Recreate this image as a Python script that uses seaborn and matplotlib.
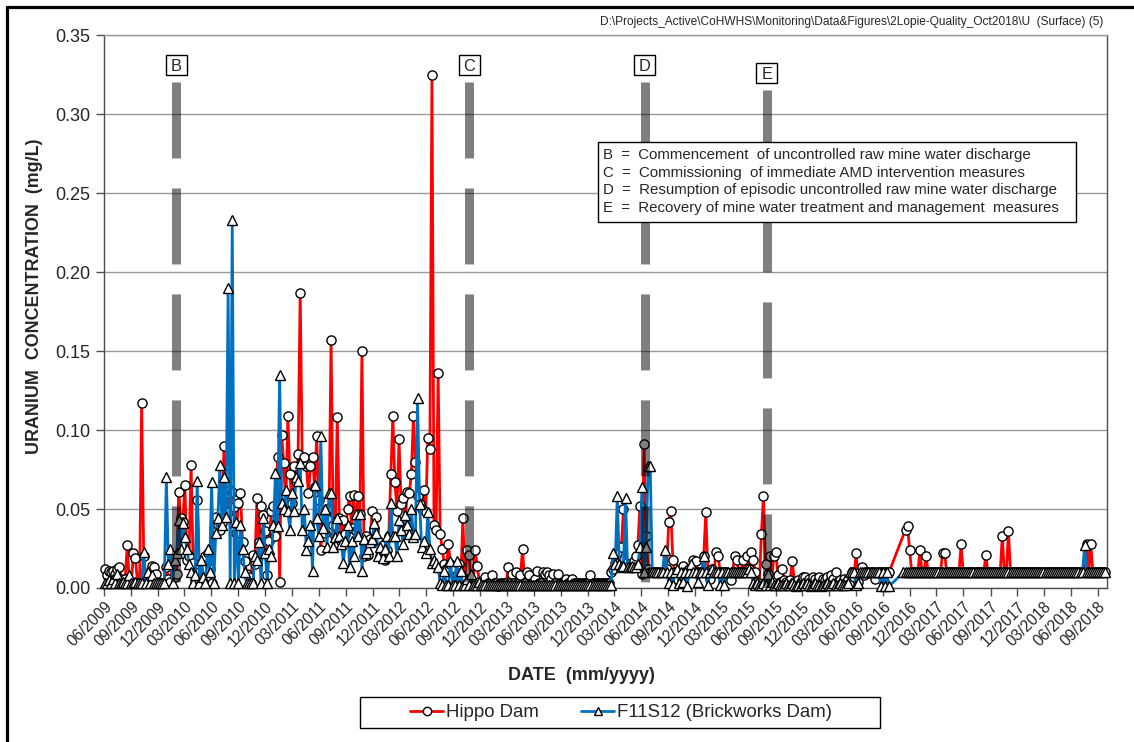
import numpy as np
import pandas as pd
import matplotlib
matplotlib.use("Agg")
import matplotlib.pyplot as plt
import matplotlib.dates as mdates
from matplotlib.lines import Line2D
from matplotlib.patches import Rectangle
from matplotlib.transforms import ScaledTranslation
import seaborn as sns

# ---------------------------------------------------------------------------
# Weekly uranium results (mg/L); nan = no sample that week
# ---------------------------------------------------------------------------
first_sample = "2009-06-03"

hippo_dam = [
    # 2009
    0.012, 0.008, 0.011, 0.010, 0.011, 0.009, 0.012, 0.013, 0.006, 0.005,
    0.006, 0.027, 0.005, 0.003, 0.022, 0.019, 0.003, 0.003, 0.117, 0.020,
    0.008, 0.005, 0.010, 0.014, 0.013, 0.009, 0.004, 0.003, 0.003, 0.003,
    0.013, 0.006, 0.004, 0.020, 0.007, 0.009, 0.061, 0.044, 0.042, 0.065,
    # 2010
    0.018, 0.020, 0.078, 0.016, 0.003, 0.056, 0.015, 0.003, 0.012, 0.020,
    0.022, 0.012, 0.003, 0.038, 0.045, 0.040, 0.037, 0.041, 0.090, 0.060,
    0.048, 0.062, 0.061, 0.051, 0.035, 0.054, 0.060, 0.029, 0.017, 0.009,
    0.007, 0.003, 0.021, 0.015, 0.057, 0.029, 0.052, 0.046, 0.036, 0.008,
    # 2011
    0.030, 0.049, 0.052, 0.033, 0.083, 0.004, 0.097, 0.079, 0.050, 0.109,
    0.072, 0.054, 0.077, 0.068, 0.085, 0.187, 0.080, 0.083, 0.077, 0.060,
    0.077, 0.083, 0.064, 0.096, 0.056, 0.024, 0.044, 0.035, 0.050, 0.043,
    0.157, 0.040, 0.033, 0.108, 0.044, 0.030, 0.043, 0.034, 0.050, 0.058,
    0.038, 0.059, 0.036, 0.058, 0.047, 0.150, 0.020, 0.033, 0.021, 0.031,
    # 2012
    0.049, 0.037, 0.045, 0.030, 0.020, 0.027, 0.018, 0.024, 0.033, 0.072,
    0.109, 0.067, 0.049, 0.094, 0.053, 0.057, 0.042, 0.061, 0.060, 0.072,
    0.109, 0.080, 0.058, 0.053, 0.050, 0.062, 0.048, 0.095, 0.088, 0.325,
    0.040, 0.037, 0.136, 0.034, 0.025, 0.015, 0.012, 0.028, 0.015, 0.006,
    0.012, 0.008, 0.015, 0.005, 0.044, 0.006, 0.024, 0.021, 0.004, 0.003,
    # 2013
    0.024, 0.014, 0.004, 0.003, 0.003, 0.007, 0.003, 0.003, 0.008, 0.003,
    0.003, 0.001, 0.003, 0.003, 0.003, 0.003, 0.013, 0.003, 0.009, 0.003,
    0.010, 0.003, 0.008, 0.025, 0.003, 0.010, 0.008, 0.003, 0.003, 0.006,
    0.011, 0.003, 0.003, 0.010, 0.009, 0.010, 0.008, 0.006, 0.009, 0.003,
    0.009, 0.003, 0.003, 0.003, 0.006, 0.003, 0.003, 0.006, 0.003, 0.003,
    # 2014
    0.003, 0.003, 0.003, 0.003, 0.003, 0.003, 0.008, 0.003, 0.003, 0.003,
    0.003, 0.003, 0.003, 0.003, 0.003, 0.003, 0.010, 0.012, 0.016, 0.022,
    0.014, 0.026, 0.050, 0.016, 0.013, 0.015, 0.013, 0.017, 0.020, 0.027,
    0.052, 0.009, 0.091, 0.033, 0.012, 0.010, 0.010, 0.010, 0.010, 0.010,
    0.010, 0.010, 0.010, 0.012, 0.042, 0.049, 0.018, 0.010, 0.006, 0.010,
    # 2015
    0.010, 0.014, 0.010, 0.010, 0.012, 0.010, 0.018, 0.017, 0.010, 0.010,
    0.010, 0.020, 0.048, 0.010, 0.006, 0.012, 0.010, 0.023, 0.020, 0.010,
    0.010, 0.010, 0.010, 0.008, 0.005, 0.010, 0.020, 0.018, 0.010, 0.010,
    0.018, 0.010, 0.020, 0.012, 0.023, 0.018, 0.010, 0.004, 0.003, 0.034,
    0.058, 0.015, 0.009, 0.020, 0.005, 0.020, 0.023, 0.008, 0.004, 0.012,
    # 2016
    0.005, 0.004, 0.003, 0.005, 0.017, 0.004, 0.003, 0.005, 0.004, 0.007,
    0.007, 0.004, 0.006, 0.003, 0.007, 0.006, 0.004, 0.007, 0.003, 0.006,
    0.005, 0.007, 0.004, 0.008, 0.006, 0.010, 0.004, 0.005, 0.003, 0.006,
    0.004, 0.006, 0.003, 0.010, 0.007, 0.022, 0.004, 0.010, 0.013, 0.008,
    0.010, 0.010, 0.010, 0.010, 0.006, 0.010, 0.010, 0.010, 0.010, 0.010,
    0.010, 0.010, np.nan, np.nan, np.nan, np.nan, np.nan, np.nan, np.nan, 0.037,
    # 2017
    0.039, 0.024, 0.010, 0.010, 0.010, 0.010, 0.024, 0.010, 0.010, 0.020,
    0.010, 0.010, 0.010, 0.010, 0.010, 0.010, 0.010, 0.022, 0.022, 0.010,
    0.010, 0.010, 0.010, 0.010, 0.010, 0.010, 0.028, 0.010, 0.010, 0.010,
    0.010, 0.010, 0.010, 0.010, 0.010, 0.010, 0.010, 0.010, 0.021, 0.010,
    0.010, 0.010, 0.010, 0.010, 0.010, 0.010, 0.033, 0.010, 0.010, 0.036,
    # 2018
    0.010, 0.010, 0.010, 0.010, 0.010, 0.010, 0.010, 0.010, 0.010, 0.010,
    0.010, 0.010, 0.010, 0.010, 0.010, 0.010, 0.010, 0.010, 0.010, 0.010,
    0.010, 0.010, 0.010, 0.010, 0.010, 0.010, 0.010, 0.010, 0.010, 0.010,
    0.010, 0.010, 0.010, 0.010, 0.010, 0.010, 0.010, 0.028, 0.010, 0.028,
    0.010, 0.010, 0.010, 0.010, 0.010, 0.010, 0.010,
]

f11s12_brickworks = [
    # 2009
    0.003, 0.003, 0.005, 0.003, 0.006, 0.003, 0.009, 0.003, 0.003, 0.004,
    0.003, 0.003, 0.008, 0.003, 0.003, 0.004, 0.003, 0.003, 0.003, 0.023,
    0.003, 0.010, 0.003, 0.008, 0.003, 0.003, 0.003, 0.003, 0.003, 0.003,
    0.070, 0.015, 0.025, 0.003, 0.018, 0.022, 0.043, 0.025, 0.041, 0.032,
    # 2010
    0.025, 0.015, 0.010, 0.003, 0.008, 0.068, 0.003, 0.018, 0.007, 0.003,
    0.025, 0.010, 0.067, 0.003, 0.035, 0.044, 0.078, 0.040, 0.070, 0.045,
    0.190, 0.003, 0.233, 0.003, 0.042, 0.003, 0.040, 0.025, 0.010, 0.003,
    0.003, 0.003, 0.003, 0.020, 0.018, 0.029, 0.003, 0.044, 0.022, 0.003,
    # 2011
    0.025, 0.020, 0.040, 0.073, 0.039, 0.135, 0.054, 0.050, 0.062, 0.049,
    0.037, 0.060, 0.049, 0.070, 0.068, 0.079, 0.037, 0.050, 0.024, 0.030,
    0.040, 0.011, 0.065, 0.044, 0.033, 0.096, 0.038, 0.050, 0.026, 0.060,
    0.060, 0.026, 0.032, 0.044, 0.033, 0.028, 0.016, 0.030, 0.040, 0.013,
    0.030, 0.020, 0.047, 0.033, 0.047, 0.011, 0.031, 0.022, 0.025, 0.029,
    # 2012
    0.031, 0.041, 0.035, 0.020, 0.026, 0.019, 0.025, 0.033, 0.020, 0.054,
    0.033, 0.033, 0.020, 0.043, 0.037, 0.028, 0.046, 0.040, 0.034, 0.050,
    0.032, 0.034, 0.120, 0.053, 0.026, 0.030, 0.022, 0.048, 0.025, 0.016,
    0.018, 0.016, 0.013, 0.003, 0.002, 0.011, 0.002, 0.002, 0.017, 0.002,
    0.002, 0.017, 0.002, 0.011, 0.002, 0.002, 0.006, 0.002, 0.009, 0.002,
    # 2013
    0.002, 0.002, 0.004, 0.002, 0.002, 0.002, 0.002, 0.002, 0.002, 0.002,
    0.002, 0.002, 0.002, 0.002, 0.002, 0.002, 0.002, 0.002, 0.002, 0.002,
    0.002, 0.002, 0.002, 0.002, 0.002, 0.002, 0.002, 0.002, 0.002, 0.002,
    0.002, 0.002, 0.002, 0.002, 0.002, 0.002, 0.002, 0.002, 0.002, 0.002,
    0.002, 0.002, 0.002, 0.002, 0.002, 0.002, 0.002, 0.002, 0.002, 0.002,
    # 2014
    0.002, 0.002, 0.002, 0.002, 0.002, 0.002, 0.002, 0.002, 0.002, 0.002,
    0.002, 0.002, 0.002, 0.002, 0.002, 0.002, 0.002, 0.022, 0.015, 0.058,
    0.015, 0.013, 0.014, 0.057, 0.013, 0.013, 0.014, 0.013, 0.013, 0.015,
    0.026, 0.064, 0.010, 0.026, 0.077, 0.077, 0.010, 0.010, 0.010, 0.010,
    0.010, 0.010, 0.024, 0.010, 0.003, 0.010, 0.002, 0.010, 0.012, 0.003,
    # 2015
    0.010, 0.004, 0.010, 0.001, 0.010, 0.015, 0.010, 0.010, 0.004, 0.010,
    0.010, 0.020, 0.010, 0.002, 0.010, 0.012, 0.010, 0.010, 0.010, 0.002,
    0.010, 0.002, 0.010, 0.010, 0.010, 0.010, 0.010, 0.010, 0.010, 0.010,
    0.010, 0.010, 0.010, 0.012, 0.010, 0.003, 0.002, 0.003, 0.002, 0.002,
    0.003, 0.002, 0.009, 0.002, 0.004, 0.002, 0.002, 0.003, 0.002, 0.002,
    # 2016
    0.002, 0.003, 0.002, 0.002, 0.003, 0.002, 0.001, 0.002, 0.002, 0.003,
    0.002, 0.003, 0.002, 0.001, 0.002, 0.003, 0.002, 0.002, 0.001, 0.002,
    0.002, 0.003, 0.002, 0.002, 0.003, 0.002, 0.002, 0.003, 0.002, 0.002,
    0.002, 0.003, 0.010, 0.010, 0.010, 0.002, 0.003, 0.010, 0.010, 0.010,
    0.010, 0.010, 0.010, 0.010, 0.010, 0.010, 0.010, 0.001, 0.010, 0.001,
    0.010, 0.001, np.nan, np.nan, np.nan, np.nan, np.nan, np.nan, 0.010, 0.010,
    # 2017
    0.010, 0.010, 0.010, 0.010, 0.010, 0.010, 0.010, 0.010, 0.010, 0.010,
    0.010, 0.010, 0.010, 0.010, 0.010, 0.010, 0.010, 0.010, 0.010, 0.010,
    0.010, 0.010, 0.010, 0.010, 0.010, 0.010, 0.010, 0.010, 0.010, 0.010,
    0.010, 0.010, 0.010, 0.010, 0.010, 0.010, 0.010, 0.010, 0.010, 0.010,
    0.010, 0.010, 0.010, 0.010, 0.010, 0.010, 0.010, 0.010, 0.010, 0.010,
    # 2018
    0.010, 0.010, 0.010, 0.010, 0.010, 0.010, 0.010, 0.010, 0.010, 0.010,
    0.010, 0.010, 0.010, 0.010, 0.010, 0.010, 0.010, 0.010, 0.010, 0.010,
    0.010, 0.010, 0.010, 0.010, 0.010, 0.010, 0.010, 0.010, 0.010, 0.010,
    0.010, 0.010, 0.010, 0.010, 0.010, 0.010, 0.027, 0.010, 0.010, 0.010,
    0.010, 0.010, 0.010, 0.010, 0.010, 0.010, 0.010,
]

series_names = ["Hippo Dam", "F11S12 (Brickworks Dam)"]

# Management milestones
event_letters = ["B", "C", "D", "E"]
event_dates = ["2010-02-01", "2012-10-24", "2014-06-14", "2015-08-02"]
event_bar_tops = [0.320, 0.320, 0.320, 0.315]
event_label_y = [0.331, 0.331, 0.331, 0.326]
event_notes = [
    "B  =  Commencement  of uncontrolled raw mine water discharge",
    "C  =  Commissioning  of immediate AMD intervention measures",
    "D  =  Resumption of episodic uncontrolled raw mine water discharge",
    "E  =  Recovery of mine water treatment and management  measures",
]

file_path = (r"D:\Projects_Active\CoHWHS\Monitoring\Data&Figures"
             r"\2Lopie-Quality_Oct2018\U  (Surface) (5)")

# ---------------------------------------------------------------------------
sns.set_theme(style="white")
plt.rcParams["font.family"] = ["Liberation Sans", "DejaVu Sans"]
plt.rcParams["lines.scale_dashes"] = False

W, H = 1134, 742
fig = plt.figure(figsize=(W / 100, H / 100), dpi=100)
fig.patch.set_facecolor("white")
ax = fig.add_axes([104 / W, 1 - 588 / H, (1107 - 104) / W, (588 - 35) / H])

dates = pd.date_range(first_sample, periods=len(hippo_dam), freq="7D")
df = pd.DataFrame({"date": dates, "hippo": hippo_dam, "f11s12": f11s12_brickworks})

red, blue = "#FF0000", "#0070C0"
common = dict(estimator=None, sort=False, ax=ax, legend=False, linewidth=2.0,
              markersize=6.6, markerfacecolor="white", markeredgecolor="black",
              markeredgewidth=1.0, clip_on=False)
sns.lineplot(data=df.dropna(subset=["hippo"]), x="date", y="hippo",
             color=red, marker="o", zorder=3, **common)
sns.lineplot(data=df.dropna(subset=["f11s12"]), x="date", y="f11s12",
             color=blue, marker="^", zorder=4, **common)

# milestone bars and boxed letters
for letter, d, top, ly in zip(event_letters, event_dates, event_bar_tops, event_label_y):
    d = pd.Timestamp(d)
    ax.plot([d, d], [top, 0.0], color="black", alpha=0.5, linewidth=6.5,
            dashes=(54.7, 21.6), solid_capstyle="butt", dash_capstyle="butt",
            zorder=6)
    anchor = fig.dpi_scale_trans + ScaledTranslation(mdates.date2num(d), ly, ax.transData)
    ax.add_artist(Rectangle((-0.105, -0.10), 0.21, 0.20, transform=anchor,
                            facecolor="white", edgecolor="black", lw=1.0,
                            zorder=7, clip_on=False))
    ax.annotate(letter, xy=(d, ly), xytext=(0, -4.2), textcoords="offset points",
                ha="center", va="baseline", fontsize=11.8, zorder=8,
                annotation_clip=False)

# axes formatting
ax.set_xlim(pd.Timestamp("2009-06-01"), pd.Timestamp("2018-10-02"))
ax.set_ylim(0, 0.35)
ax.set_yticks(np.arange(0, 0.351, 0.05))
ax.yaxis.set_major_formatter(matplotlib.ticker.FormatStrFormatter("%.2f"))
ax.xaxis.set_major_locator(mdates.MonthLocator(bymonth=[3, 6, 9, 12]))
ax.xaxis.set_major_formatter(mdates.DateFormatter("%m/%Y"))
ax.grid(axis="y", color="#999999", linewidth=1.0, zorder=0)
ax.grid(axis="x", visible=False)
ax.set_axisbelow(True)
for side in ["left", "right", "bottom"]:
    ax.spines[side].set_color("#4d4d4d")
    ax.spines[side].set_linewidth(1.0)
ax.spines["top"].set_color("#999999")
ax.spines["top"].set_linewidth(1.0)

ax.tick_params(axis="x", direction="out", length=6, width=1, color="#4d4d4d",
               labelsize=11.2, pad=2, bottom=True)
ax.tick_params(axis="y", direction="out", length=6, width=1, color="#4d4d4d",
               labelsize=13, pad=4, left=True)
for lab in ax.get_xticklabels():
    lab.set_rotation(45)
    lab.set_ha("right")
    lab.set_va("top")
    lab.set_rotation_mode("anchor")

ax.set_xlabel("")
ax.set_ylabel("")
fig.text(35 / W, 1 - 296 / H, "URANIUM  CONCENTRATION  (mg/L)", rotation=90,
         ha="center", va="center", fontsize=12.9, fontweight="bold")
fig.text(581 / W, 1 - 676 / H, "DATE  (mm/yyyy)", ha="center", va="center",
         fontsize=13, fontweight="bold")

# milestone key
fig.add_artist(Rectangle((598 / W, 1 - 222 / H), (1076 - 598) / W, (222 - 142) / H,
                         transform=fig.transFigure, facecolor="white",
                         edgecolor="black", lw=1.0, zorder=8))
for i, note in enumerate(event_notes):
    fig.text(603 / W, 1 - (155 + 17.7 * i) / H, note, ha="left", va="center",
             fontsize=10.8, zorder=9)

# file reference
fig.text(1103 / W, 1 - 25 / H, file_path, ha="right", va="baseline",
         fontsize=8.6, color="#262626")

# legend
handles = [
    Line2D([], [], color=red, lw=2.0, marker="o", ms=6, mfc="white",
           mec="black", mew=1.0),
    Line2D([], [], color=blue, lw=2.0, marker="^", ms=6, mfc="white",
           mec="black", mew=1.0),
]
fig.add_artist(Rectangle((360 / W, 1 - 728 / H), (880 - 360) / W, (728 - 697) / H,
                         transform=fig.transFigure, facecolor="white",
                         edgecolor="black", lw=1.0, zorder=1))
leg = fig.legend(handles, series_names, loc="center",
                 bbox_to_anchor=(621 / W, 1 - 712.5 / H), ncol=2,
                 fontsize=13.4, frameon=False, handlelength=1.75,
                 handletextpad=0.15, columnspacing=2.3, borderpad=0.2)
leg.set_zorder(2)

# outer frame
frame_kw = dict(color="black", linewidth=2.3, transform=fig.transFigure)
fig.add_artist(Line2D([7 / W, 7 / W], [0, 1 - 7 / H], **frame_kw))
fig.add_artist(Line2D([7 / W, 1], [1 - 7 / H, 1 - 7 / H], **frame_kw))

fig.savefig("out.png", dpi=100, facecolor="white")
